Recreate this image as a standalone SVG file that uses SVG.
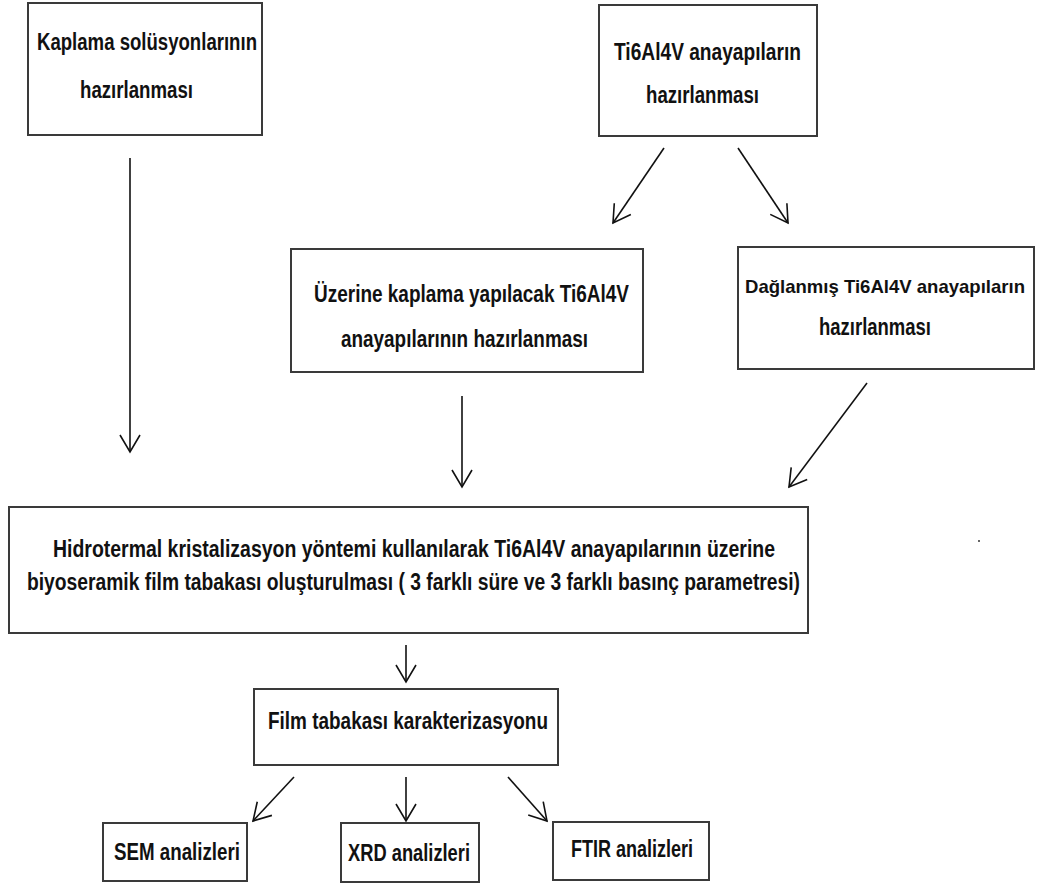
<svg xmlns="http://www.w3.org/2000/svg" width="1037" height="883" viewBox="0 0 1037 883">
<style>
.box{fill:#fff;stroke:#3a3a3a;stroke-width:2}
.lbl{font-family:"Liberation Sans",Arial,sans-serif;font-weight:bold;font-size:23px;fill:#111}
.sm{font-size:19px}
.con{stroke:#111;stroke-width:1.6;fill:none}
</style>
<defs>
<marker id="ah" markerUnits="userSpaceOnUse" viewBox="-20 -12 22 24" refX="0" refY="0" markerWidth="22" markerHeight="24" orient="auto">
<path d="M-17,-10 L0,0 L-17,10" fill="none" stroke="#111" stroke-width="1.6"/>
</marker>
</defs>
<rect width="1037" height="883" fill="#fff"/>
<g id="connectors">
<line class="con" x1="130" y1="158" x2="130" y2="452" marker-end="url(#ah)"/>
<line class="con" x1="664" y1="148" x2="613" y2="223" marker-end="url(#ah)"/>
<line class="con" x1="738" y1="148" x2="788" y2="223" marker-end="url(#ah)"/>
<line class="con" x1="462" y1="396" x2="462" y2="487" marker-end="url(#ah)"/>
<line class="con" x1="867" y1="383" x2="789" y2="487" marker-end="url(#ah)"/>
<line class="con" x1="406" y1="645" x2="406" y2="682" marker-end="url(#ah)"/>
<line class="con" x1="294" y1="777" x2="253" y2="821" marker-end="url(#ah)"/>
<line class="con" x1="406" y1="777" x2="406" y2="821" marker-end="url(#ah)"/>
<line class="con" x1="508" y1="777" x2="547" y2="821" marker-end="url(#ah)"/>
</g>
<g id="n1">
<rect class="box" x="28" y="3" width="234" height="132"/>
<text class="lbl" x="37" y="50" textLength="220" lengthAdjust="spacingAndGlyphs">Kaplama solüsyonlarının</text>
<text class="lbl" x="80" y="98" textLength="113" lengthAdjust="spacingAndGlyphs">hazırlanması</text>
</g>
<g id="n2">
<rect class="box" x="599" y="5" width="218" height="131"/>
<text class="lbl" x="614" y="60" textLength="187" lengthAdjust="spacingAndGlyphs">Ti6Al4V anayapıların</text>
<text class="lbl" x="646" y="103" textLength="113" lengthAdjust="spacingAndGlyphs">hazırlanması</text>
</g>
<g id="n3">
<rect class="box" x="291" y="249" width="352" height="123"/>
<text class="lbl" x="314" y="302" textLength="315" lengthAdjust="spacingAndGlyphs">Üzerine kaplama yapılacak Ti6Al4V</text>
<text class="lbl" x="341" y="347" textLength="247" lengthAdjust="spacingAndGlyphs">anayapılarının hazırlanması</text>
</g>
<g id="n4">
<rect class="box" x="738" y="247" width="296" height="122"/>
<text class="lbl sm" x="745" y="293" textLength="280" lengthAdjust="spacingAndGlyphs">Dağlanmış Ti6Al4V anayapıların</text>
<text class="lbl" x="819" y="335" textLength="112" lengthAdjust="spacingAndGlyphs">hazırlanması</text>
</g>
<g id="n5">
<rect class="box" x="9" y="507" width="799" height="126"/>
<text class="lbl" x="53" y="557" textLength="722" lengthAdjust="spacingAndGlyphs">Hidrotermal kristalizasyon yöntemi kullanılarak Ti6Al4V anayapılarının üzerine</text>
<text class="lbl" x="27" y="590" textLength="773" lengthAdjust="spacingAndGlyphs">biyoseramik film tabakası oluşturulması ( 3 farklı süre ve 3 farklı basınç parametresi)</text>
</g>
<circle cx="979" cy="541" r="1" fill="#333"/>
<g id="n6">
<rect class="box" x="254" y="689" width="304" height="76"/>
<text class="lbl" x="268" y="729" textLength="280" lengthAdjust="spacingAndGlyphs">Film tabakası karakterizasyonu</text>
</g>
<g id="n7">
<rect class="box" x="103" y="823" width="144" height="58"/>
<text class="lbl" x="114" y="860" textLength="126" lengthAdjust="spacingAndGlyphs">SEM analizleri</text>
</g>
<g id="n8">
<rect class="box" x="341" y="823" width="138" height="59"/>
<text class="lbl" x="348" y="861" textLength="122" lengthAdjust="spacingAndGlyphs">XRD analizleri</text>
</g>
<g id="n9">
<rect class="box" x="553" y="822" width="156" height="58"/>
<text class="lbl" x="571" y="857" textLength="122" lengthAdjust="spacingAndGlyphs">FTIR analizleri</text>
</g>
</svg>
